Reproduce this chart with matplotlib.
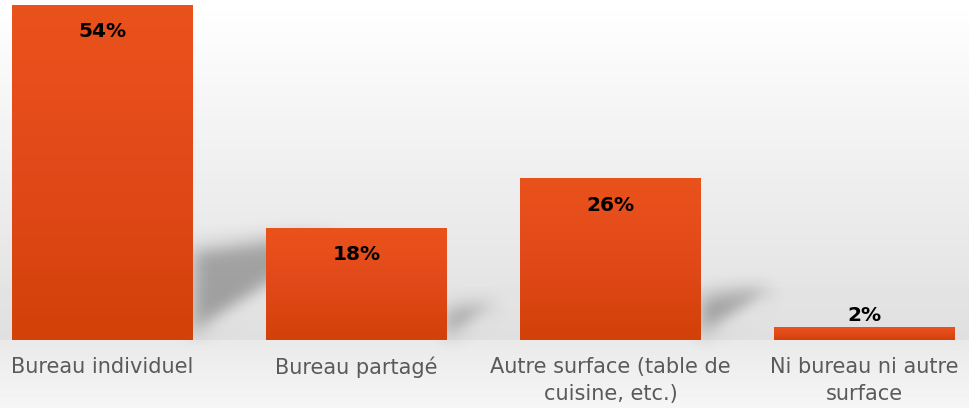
import matplotlib
matplotlib.use('Agg')
import numpy as np
import matplotlib.pyplot as plt
from matplotlib.patches import Polygon
from matplotlib.colors import LinearSegmentedColormap


categories = ['Bureau individuel', 'Bureau partagé',
              'Autre surface (table de\ncuisine, etc.)', 'Ni bureau ni autre\nsurface']
values = [54, 18, 26, 2]
value_labels = ['54%', '18%', '26%', '2%']


def gaussian_blur(sigma):
    # agg_filter: blur the rendered shadow patch
    def _filter(im, dpi):
        pad = int(3 * sigma)
        src = np.pad(im, [(pad, pad), (pad, pad), (0, 0)], 'constant')
        r = np.arange(-pad, pad + 1)
        k = np.exp(-0.5 * (r / sigma) ** 2)
        k /= k.sum()
        tmp = np.zeros_like(src)
        for off, wgt in zip(r, k):
            tmp += wgt * np.roll(src, off, axis=0)
        out = np.zeros_like(src)
        for off, wgt in zip(r, k):
            out += wgt * np.roll(tmp, off, axis=1)
        return out, -pad, -pad
    return _filter


fig = plt.figure(figsize=(9.69, 4.08), dpi=100)

# page background gradient
bg = fig.add_axes([0, 0, 1, 1], zorder=-1)
ypix = np.arange(408)
shade = np.where(ypix < 340,
                 1.0 - (ypix / 340.0) * (1.0 - 0.875),
                 0.915 + (ypix - 340) / 68.0 * (0.965 - 0.915))
bg.imshow(np.repeat(shade[:, None], 2, axis=1), cmap='gray', vmin=0, vmax=1,
          aspect='auto', extent=[0, 1, 1, 0])
bg.set_axis_off()

ax = fig.add_axes([0, 68 / 408, 1, 340 / 408])
ax.set_facecolor('none')

width = 181 / 254
x = np.arange(len(values))
bar_cmap = LinearSegmentedColormap.from_list('bar', ['#D24108', '#E2491A', '#EA521C'])
grad = np.linspace(0, 1, 100)[:, None]

for i, v in enumerate(values):
    x0, x1 = i - width / 2, i + width / 2
    ax.imshow(grad, cmap=bar_cmap, aspect='auto', origin='lower',
              extent=[x0, x1, 0, v], zorder=3)
    # perspective shadow behind each bar
    dx = 0.011 * v
    shadow = Polygon([(x1, 0.01 * v), (x1, 0.28 * v), (x1 + 0.7 * dx, 0.31 * v),
                      (x1 + dx, 0.30 * v)], closed=True,
                     facecolor='black', edgecolor='none', alpha=0.3, zorder=2)
    shadow.set_agg_filter(gaussian_blur(9))
    ax.add_patch(shadow)

    if v > 5:
        ax.annotate(value_labels[i], (i, v), xytext=(0, -19), textcoords='offset points',
                    ha='center', va='center', fontsize=14.5, fontweight='bold',
                    color='black', zorder=4)
    else:
        ax.annotate(value_labels[i], (i, v), xytext=(0, 9), textcoords='offset points',
                    ha='center', va='center', fontsize=14.5, fontweight='bold',
                    color='black', zorder=4)

ax.set_xlim(-102.5 / 254, (969 - 102.5) / 254)
ax.set_ylim(0, 340 / 6.2)
ax.set_xticks(x)
ax.set_xticklabels(categories, fontsize=15, color='#5a5a5a', linespacing=1.45)
ax.tick_params(axis='x', length=0, pad=12)
ax.set_yticks([])
for s in ax.spines.values():
    s.set_visible(False)

plt.savefig('out.png', dpi=100)
